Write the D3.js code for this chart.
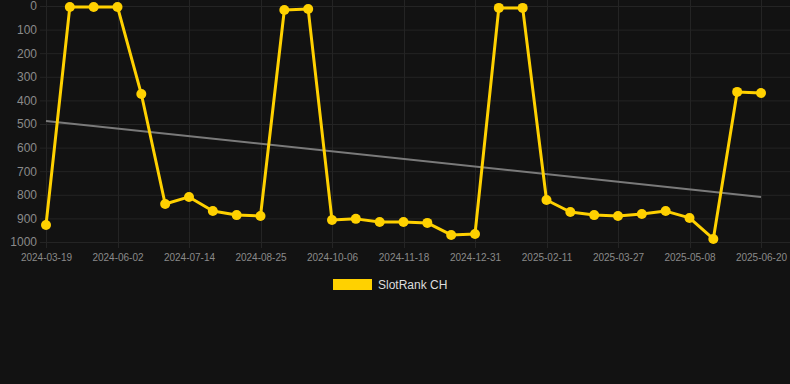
<!DOCTYPE html>
<html>
<head>
<meta charset="utf-8">
<script src="https://cdn.jsdelivr.net/npm/d3@7"></script>
<style>
  html, body { margin: 0; padding: 0; background: #121212; }
  svg { display: block; font-family: Arial, "Liberation Sans", sans-serif; }
</style>
</head>
<body>
<div id="chart"></div>
<script>
// dates (category axis, every 3rd label shown)
const dates = [
    "2024-03-19", "2024-04-13", "2024-05-08", "2024-06-02", "2024-06-16", "2024-06-30",
    "2024-07-14", "2024-07-28", "2024-08-11", "2024-08-25", "2024-09-08", "2024-09-22",
    "2024-10-06", "2024-10-20", "2024-11-03", "2024-11-18", "2024-12-02", "2024-12-16",
    "2024-12-31", "2025-01-14", "2025-01-28", "2025-02-11", "2025-02-25", "2025-03-12",
    "2025-03-27", "2025-04-10", "2025-04-24", "2025-05-08", "2025-05-22", "2025-06-05",
    "2025-06-20"
];
const ranks = [
    928, 4, 4, 4, 373, 839, 809, 869, 886, 890, 17, 13,
    907, 902, 915, 915, 919, 970, 966, 8, 8, 822, 873, 886,
    890, 881, 869, 898, 987, 364, 369
];
// trend line, start and end value
const trend = [487, 809];
const yTicks = [0, 100, 200, 300, 400, 500, 600, 700, 800, 900, 1000];
const seriesName = "SlotRank CH";

const W = 790, H = 384;
const LINE_COLOR = "#ffd100";

const svg = d3.select("#chart").append("svg")
    .attr("width", W)
    .attr("height", H);

svg.append("rect").attr("width", W).attr("height", H).attr("fill", "#121212");

const x = d3.scalePoint()
    .domain(dates)
    .range([46, 761]);

const y = d3.scaleLinear()
    .domain([0, 1000])
    .range([6, 242]);

const tickDates = dates.filter((d, i) => i % 3 === 0);

// grid
const grid = svg.append("g");
grid.selectAll("line.h")
    .data(yTicks)
    .join("line")
    .attr("x1", 40).attr("x2", W)
    .attr("y1", d => y(d) + 0.5).attr("y2", d => y(d) + 0.5)
    .attr("stroke", "#242424").attr("stroke-width", 1);
grid.selectAll("line.v")
    .data(tickDates)
    .join("line")
    .attr("x1", d => Math.round(x(d)) + 0.5).attr("x2", d => Math.round(x(d)) + 0.5)
    .attr("y1", 0).attr("y2", 248)
    .attr("stroke", "#242424").attr("stroke-width", 1);

// y axis
const yAxis = svg.append("g")
    .attr("transform", "translate(37,0)")
    .call(d3.axisLeft(y).tickValues(yTicks).tickFormat(d3.format("d")).tickSize(0).tickPadding(0));
yAxis.select(".domain").remove();
yAxis.selectAll("text")
    .attr("fill", "#8a8a8a")
    .style("font-size", "12px");

// x axis
const xAxis = svg.append("g")
    .attr("transform", "translate(0,254)")
    .call(d3.axisBottom(x).tickValues(tickDates).tickSize(0).tickPadding(0));
xAxis.select(".domain").remove();
xAxis.selectAll("text")
    .attr("fill", "#8a8a8a")
    .attr("dy", "0.71em")
    .style("font-size", "10px");

// trend
svg.append("line")
    .attr("x1", x(dates[0])).attr("y1", y(trend[0]))
    .attr("x2", x(dates[dates.length - 1])).attr("y2", y(trend[1]))
    .attr("stroke", "#7a7a7a").attr("stroke-width", 2);

// series
const line = d3.line()
    .x((d, i) => x(dates[i]))
    .y(d => y(d));

svg.append("path")
    .datum(ranks)
    .attr("d", line)
    .attr("fill", "none")
    .attr("stroke", LINE_COLOR)
    .attr("stroke-width", 3)
    .attr("stroke-linejoin", "round");

svg.append("g").selectAll("circle")
    .data(ranks)
    .join("circle")
    .attr("cx", (d, i) => x(dates[i]))
    .attr("cy", d => y(d))
    .attr("r", 5)
    .attr("fill", LINE_COLOR);

// legend
const legend = svg.append("g").attr("transform", "translate(333,279)");
legend.append("rect")
    .attr("width", 39).attr("height", 11)
    .attr("fill", LINE_COLOR);
legend.append("text")
    .attr("x", 45).attr("y", 10)
    .attr("fill", "#dddddd")
    .style("font-size", "12px")
    .text(seriesName);
</script>
</body>
</html>
